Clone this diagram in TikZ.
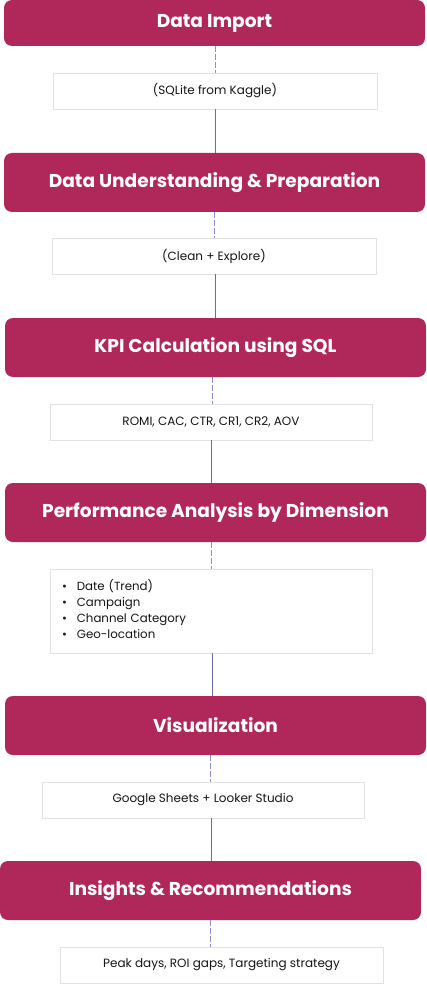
\documentclass[tikz,border=0pt]{standalone}
\usepackage{fontspec}
\setmainfont{Poppins}
\definecolor{crim}{HTML}{B0285A}
\definecolor{solidln}{HTML}{6A6AB2}
\definecolor{dashln}{HTML}{8C8CD0}
\definecolor{subedge}{HTML}{E2E2E2}
\definecolor{txt}{HTML}{151515}
\tikzset{
  stagebox/.style={rectangle, rounded corners=8pt, fill=crim, draw=none, text=white,
    font=\fontsize{18.6}{21}\selectfont\bfseries, minimum width=421pt, minimum height=59pt, inner sep=0pt},
  subbox/.style={rectangle, fill=white, draw=subedge, line width=0.8pt, text=txt,
    font=\fontsize{12}{16}\selectfont, minimum width=322pt, minimum height=36pt, inner sep=0pt},
  solidlink/.style={draw=solidln, line width=0.9pt},
  dashlink/.style={draw=dashln, line width=0.9pt, dash pattern=on 6pt off 2pt},
}
\begin{document}
\begin{tikzpicture}[x=1pt,y=1pt]
\useasboundingbox[fill=white] (0,0) rectangle (427,-984);
% stage boxes
\node[stagebox, minimum height=46pt] (s1) at (214.5,-23) {Data Import};
\node[stagebox] (s2) at (214.5,-182.5) {Data Understanding \& Preparation};
\node[stagebox] (s3) at (215.5,-347.5) {KPI Calculation using SQL};
\node[stagebox] (s4) at (215.5,-512.5) {Performance Analysis by Dimension};
\node[stagebox] (s5) at (215.5,-725.5) {Visualization};
\node[stagebox] (s6) at (210.5,-890.5) {Insights \& Recommendations};
% sub boxes
\node[subbox, minimum width=324pt] (b1) at (215,-91) {(SQLite from Kaggle)};
\node[subbox, minimum width=324pt] (b2) at (214,-256) {(Clean + Explore)};
\node[subbox] (b3) at (211,-422) {ROMI, CAC, CTR, CR1, CR2, AOV};
\node[subbox, minimum height=84pt, text width=298pt, align=left, inner xsep=12pt, font=\fontsize{11.8}{16}\selectfont] (b4) at (211,-611)
  {\begin{tabular}{@{}l@{\hspace{10pt}}l@{}}
   \textbullet & Date (Trend)\\
   \textbullet & Campaign\\
   \textbullet & Channel Category\\
   \textbullet & Geo-location
   \end{tabular}};
\node[subbox] (b5) at (203,-800) {Google Sheets + Looker Studio};
\node[subbox, minimum width=323pt] (b6) at (221.5,-965) {Peak days, ROI gaps, Targeting strategy};
% connectors
\draw[dashlink] (s1.south -| b1.north) -- (b1.north);
\draw[solidlink] (b1.south) -- (b1.south |- s2.north);
\draw[dashlink] (s2.south -| b2.north) -- (b2.north);
\draw[solidlink] ([xshift=1pt]b2.south) -- ([xshift=1pt]b2.south |- s3.north);
\draw[dashlink] ([xshift=1pt]s3.south -| b3.north) -- ([xshift=1pt]b3.north);
\draw[solidlink] (b3.south) -- (b3.south |- s4.north);
\draw[dashlink] (s4.south -| b4.north) -- (b4.north);
\draw[solidlink] ([xshift=1pt]b4.south) -- ([xshift=1pt]b4.south |- s5.north);
\draw[dashlink] ([xshift=7pt]s5.south -| b5.north) -- ([xshift=7pt]b5.north);
\draw[solidlink] ([xshift=8pt]b5.south) -- ([xshift=8pt]b5.south |- s6.north);
\draw[dashlink] ([xshift=-11.5pt]s6.south -| b6.north) -- ([xshift=-11.5pt]b6.north);
\end{tikzpicture}
\end{document}
